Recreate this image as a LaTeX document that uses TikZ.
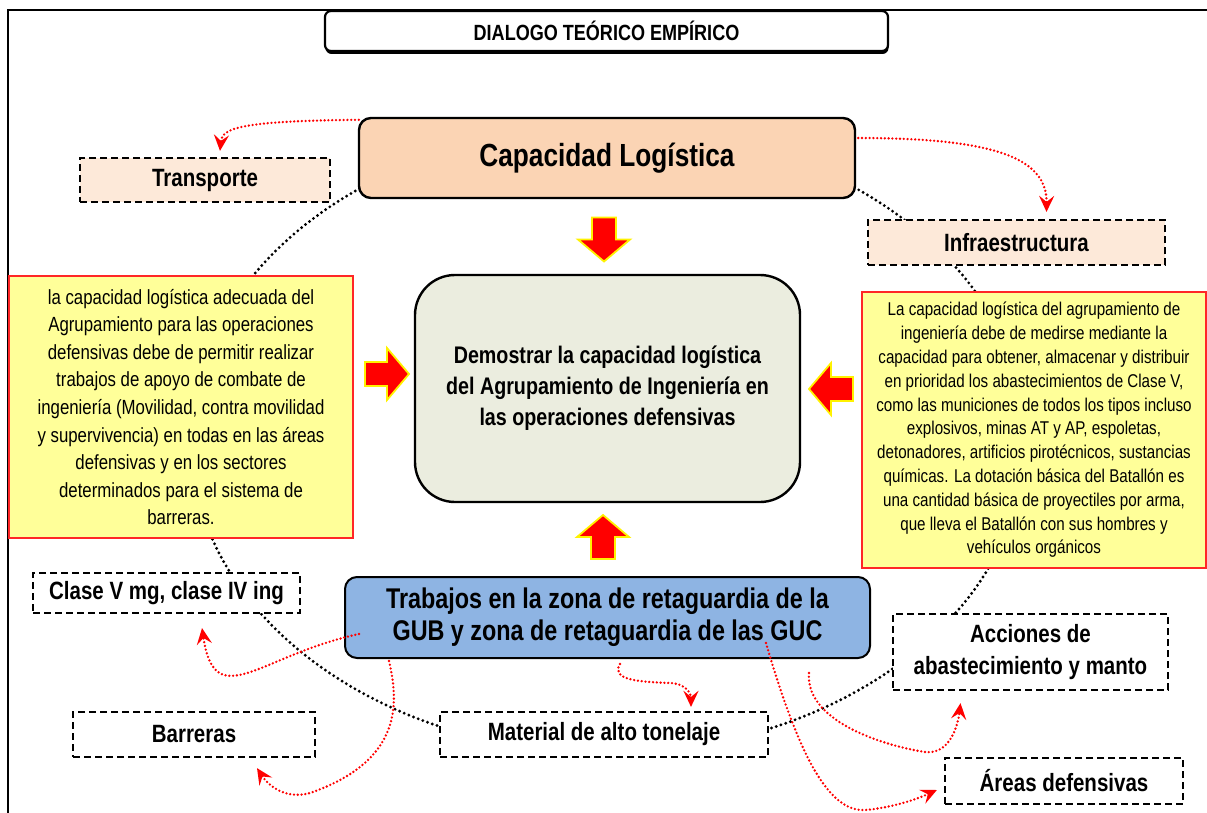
\documentclass[tikz,border=0pt]{standalone}
\usepackage{fontspec}
\setmainfont{Liberation Sans}[FakeStretch=0.82]
\usetikzlibrary{arrows.meta,shapes.geometric,shadows}

\definecolor{durazno}{HTML}{FBD4B4}
\definecolor{duraznoclaro}{HTML}{FDE9D9}
\definecolor{amarillo}{HTML}{FFFF99}
\definecolor{verdoso}{HTML}{EBEDDF}
\definecolor{azul}{HTML}{8EB4E3}

\tikzset{
  caja/.style={draw, line width=2.4pt, rounded corners=12pt, align=center, inner sep=0pt},
  guion/.style={draw, dash pattern=on 7pt off 4pt, line width=2.2pt, fill=white, align=center,
    inner sep=0pt, font=\fontsize{25}{32}\selectfont\bfseries},
  nota/.style={draw=red!85, line width=1.5pt, fill=amarillo, align=center, inner sep=0pt},
  anillo/.style={draw, ellipse, dash pattern=on 0pt off 5pt, line cap=round, line width=3.2pt, inner sep=0pt},
  rojo/.style={red, dash pattern=on 0pt off 3.8pt, line cap=round, line width=2.6pt,
    -{Stealth[length=16pt,width=15pt,inset=6pt]}},
  flecha/.pic={\draw[fill=red, draw=yellow, line width=1.8pt]
    (-22,-12) -- (0,-12) -- (0,-26) -- (22,0) -- (0,26) -- (0,12) -- (-22,12) -- cycle;}
}

\begin{document}
\begin{tikzpicture}[x=1pt, y=-1pt]
  \useasboundingbox (0,0) rectangle (1207,813);
  \draw[line width=1.2pt] (8,813) -- (8,10) -- (1207,10);

  % anillo punteado
  \node[anillo, minimum width=834, minimum height=626] (ciclo) at (608,440) {};

  \node[caja, fill=white, line width=2.2pt, rounded corners=6pt, minimum width=563, minimum height=40,
    drop shadow={shadow xshift=0.5pt, shadow yshift=-3pt, fill=black, opacity=1},
    font=\fontsize{22}{24}\selectfont\bfseries] (titulo) at (606.5,31) {DIALOGO TEÓRICO EMPÍRICO};

  \node[caja, fill=durazno, minimum width=496, minimum height=80,
    font=\fontsize{32}{36}\selectfont\bfseries] (cap) at (607,158) {Capacidad Logística};
  \node[guion, fill=duraznoclaro, minimum width=250, minimum height=44] (transp) at (205,180) {Transporte};
  \node[guion, fill=duraznoclaro, minimum width=297, minimum height=45] (infra) at (1016.5,242.5) {Infraestructura};

  \node[nota, minimum width=344, minimum height=262, font=\fontsize{20.5}{27.6}\selectfont] (izq) at (181,407)
    {la capacidad logística adecuada del\\Agrupamiento para las operaciones\\defensivas debe de permitir realizar\\
     trabajos de apoyo de combate de\\ingeniería (Movilidad, contra movilidad\\y supervivencia) en todas en las áreas\\
     defensivas y en los sectores\\determinados para el sistema de\\barreras.};
  \node[nota, minimum width=344, minimum height=276, font=\fontsize{18.5}{23.8}\selectfont] (der) at (1034,430)
    {La capacidad logística del agrupamiento de\\ingeniería debe de medirse mediante la\\
     capacidad para obtener, almacenar y distribuir\\en prioridad los abastecimientos de Clase V,\\
     como las municiones de todos los tipos incluso\\explosivos, minas AT y AP, espoletas,\\
     detonadores, artificios pirotécnicos, sustancias\\químicas. La dotación básica del Batallón es\\
     una cantidad básica de proyectiles por arma,\\que lleva el Batallón con sus hombres y\\vehículos orgánicos};

  \node[caja, fill=verdoso, rounded corners=40pt, minimum width=385, minimum height=227,
    font=\fontsize{24}{31}\selectfont\bfseries] (centro) at (607.5,388.5)
    {Demostrar la capacidad logística\\del Agrupamiento de Ingeniería en\\las operaciones defensivas};

  \node[caja, fill=azul, line width=2pt, minimum width=525, minimum height=81,
    font=\fontsize{28.5}{32}\selectfont\bfseries] (trab) at (607.5,617.5)
    {Trabajos en la zona de retaguardia de la\\GUB y zona de retaguardia de las GUC};

  \node[guion, minimum width=267, minimum height=40] (clase) at (166.5,593) {Clase V mg, clase IV ing};
  \node[guion, minimum width=242, minimum height=45] (barr) at (194,734.5) {Barreras};
  \node[guion, minimum width=328, minimum height=45] (mat) at (604,734.5) {Material de alto tonelaje};
  \node[guion, minimum width=275, minimum height=76] (acc) at (1030.5,652) {Acciones de\\abastecimiento y manto};
  \node[guion, minimum width=238, minimum height=46] (areas) at (1064,781) {Áreas defensivas};

  % flechas de bloque
  \pic[rotate=-90] at (604,239.5) {flecha};
  \pic[rotate=90] at (603,537) {flecha};
  \pic at (387,374) {flecha};
  \pic[rotate=180] at (831,389) {flecha};

  % flechas rojas
  \draw[rojo] ([shift={(1,3)}]cap.north west) .. controls (240,121) and (222,128) .. ([shift={(15,-6)}]transp.north);
  \draw[rojo] ([shift={(2,-20)}]cap.east) .. controls (1000,138) and (1047,160) .. ([shift={(30,-7)}]infra.north);
  \draw[rojo] ([shift={(15,16.5)}]trab.west) .. controls (260,655) and (215,715) .. ([shift={(35.5,14)}]clase.south);
  \draw[rojo] ([shift={(45,2)}]trab.south west) .. controls (398,700) and (405,760) .. (310,793)
    .. controls (285,800) and (268,785) .. ([shift={(63,10)}]barr.south);
  \draw[rojo] ([shift={(12.5,5)}]trab.south) .. controls (610,680) and (640,682) .. (670,683)
    .. controls (688,684) and (691,695) .. ([shift={(87,-4)}]mat.north);
  \draw[rojo] ([shift={(-105,25.5)}]trab.east) .. controls (800,760) and (830,812) .. (865,810)
    .. controls (890,808) and (915,800) .. ([shift={(-7,9)}]areas.west);
  \draw[rojo] ([shift={(-62,14)}]trab.south east) .. controls (805,720) and (880,745) .. (925,752)
    .. controls (950,755) and (958,725) .. ([shift={(-70,12)}]acc.south);
\end{tikzpicture}
\end{document}
